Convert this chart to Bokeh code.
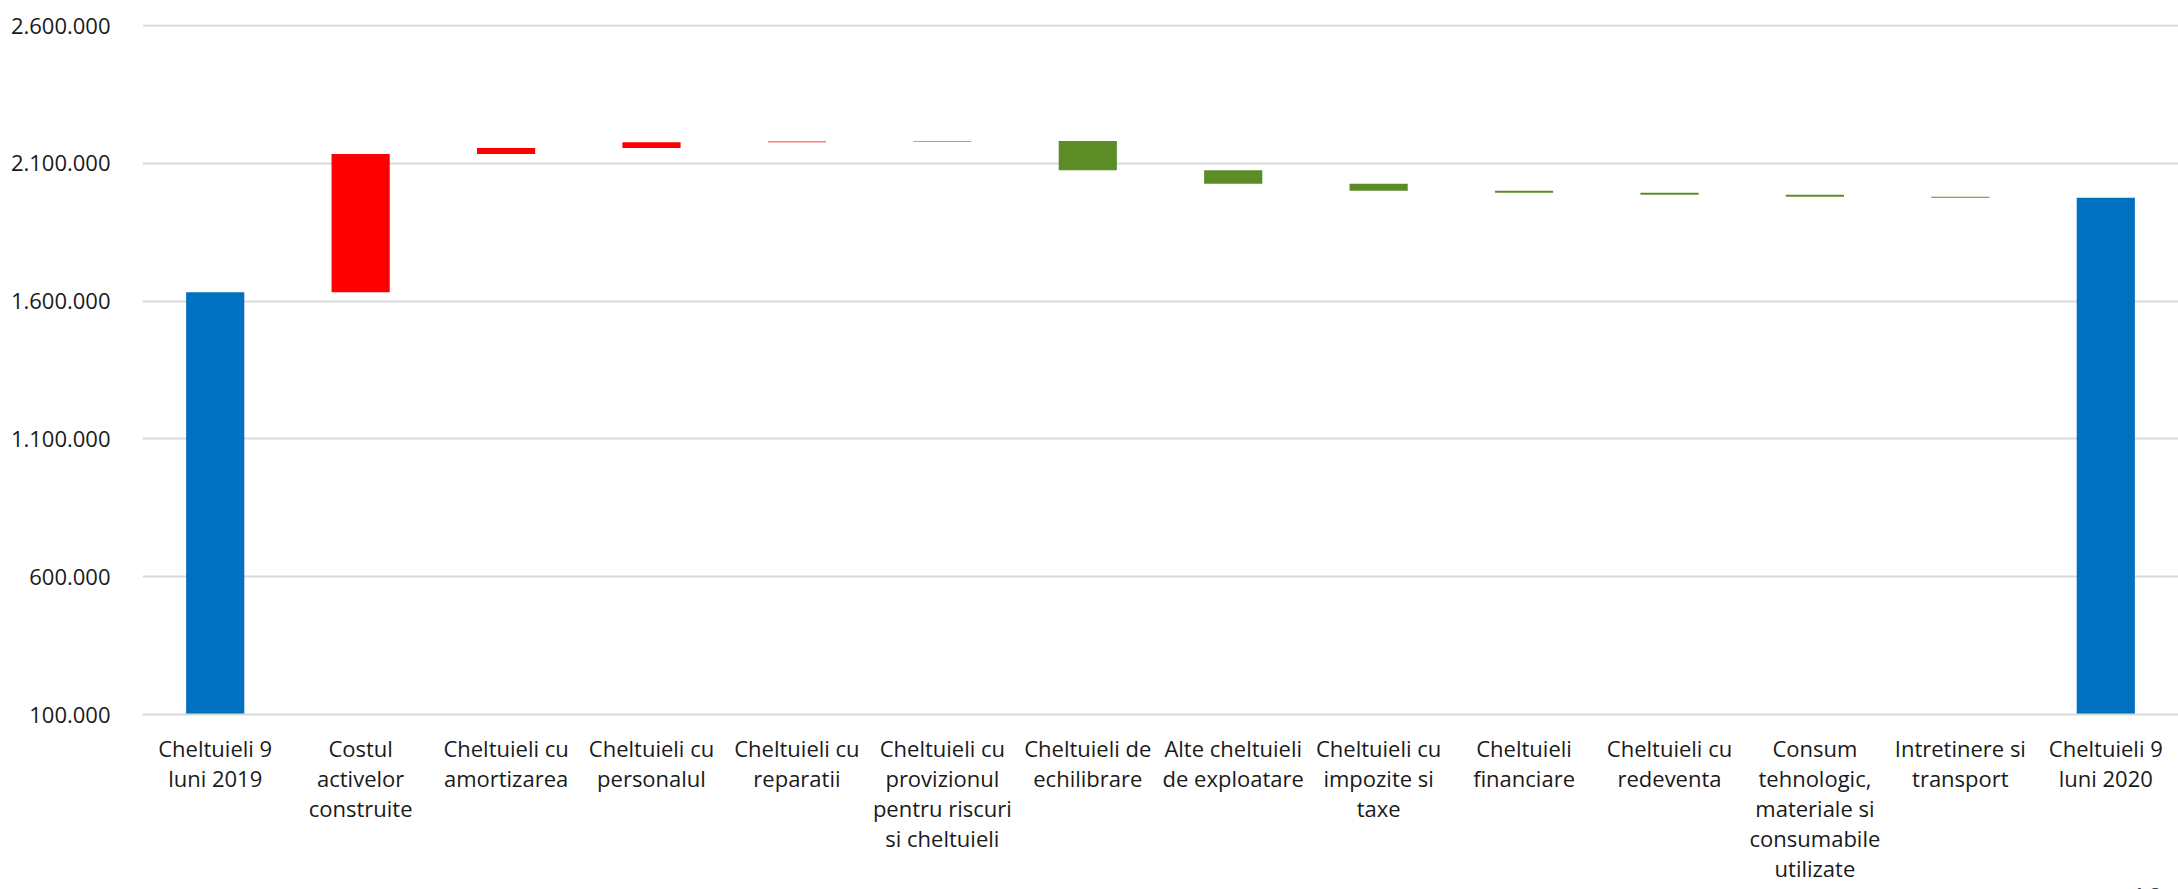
from bokeh.plotting import figure
from bokeh.models import ColumnDataSource, Range1d, FactorRange, CustomJSTickFormatter, FixedTicker, Title
from bokeh.embed import file_html
from bokeh.resources import INLINE

categories = [
    "Cheltuieli 9\nluni 2019",
    "Costul\nactivelor\nconstruite",
    "Cheltuieli cu\namortizarea",
    "Cheltuieli cu\npersonalul",
    "Cheltuieli cu\nreparatii",
    "Cheltuieli cu\nprovizionul\npentru riscuri\nsi cheltuieli",
    "Cheltuieli de\nechilibrare",
    "Alte cheltuieli\nde exploatare",
    "Cheltuieli cu\nimpozite si\ntaxe",
    "Cheltuieli\nfinanciare",
    "Cheltuieli cu\nredeventa",
    "Consum\ntehnologic,\nmateriale si\nconsumabile\nutilizate",
    "Intretinere si\ntransport",
    "Cheltuieli 9\nluni 2020",
]
start_value = 1632000
deltas = [502000, 22000, 21000, 2000, 2000, -106000, -49000, -25000, -8000, -7000, -7000, -4000]
end_value = 1975000
y_ticks = [100000, 600000, 1100000, 1600000, 2100000, 2600000]
page_number = "10"

BLUE = "#0070C0"
RED = "#FF0000"
GREEN = "#5B8C25"

bottoms, tops, colors = [0], [start_value], [BLUE]
level = start_value
for d in deltas:
    new = level + d
    bottoms.append(min(level, new))
    tops.append(max(level, new))
    colors.append(RED if d > 0 else GREEN)
    level = new
bottoms.append(0)
tops.append(end_value)
colors.append(BLUE)

source = ColumnDataSource(dict(cat=categories, bottom=bottoms, top=tops, color=colors))

p = figure(
    x_range=FactorRange(*categories),
    y_range=Range1d(100000, 2604000),
    width=2178, height=919,
    output_backend="svg", toolbar_location=None,
    min_border_left=142, min_border_right=0, min_border_top=24, min_border_bottom=205,
)
p.outline_line_color = None
p.background_fill_color = "white"
p.border_fill_color = "white"

p.vbar(x="cat", bottom="bottom", top="top", width=0.4, color="color", line_color=None, source=source)

p.yaxis.ticker = FixedTicker(ticks=y_ticks)
p.yaxis.formatter = CustomJSTickFormatter(
    code='return Math.round(tick).toString().replace(/\\B(?=(\\d{3})+(?!\\d))/g, ".");')
p.yaxis.axis_line_color = None
p.yaxis.major_tick_line_color = None
p.yaxis.minor_tick_line_color = None
p.yaxis.major_label_standoff = 26
p.yaxis.major_label_text_font = "Open Sans"
p.yaxis.major_label_text_font_size = "22px"
p.yaxis.major_label_text_color = "#1a1a1a"

p.xaxis.axis_line_color = "#d9d9d9"
p.xaxis.axis_line_width = 2
p.xaxis.major_tick_line_color = None
p.xaxis.minor_tick_line_color = None
p.xaxis.major_label_standoff = 12
p.xaxis.major_label_text_font = "Open Sans"
p.xaxis.major_label_text_font_size = "22px"
p.xaxis.major_label_text_line_height = 1.0
p.xaxis.major_label_text_color = "#1a1a1a"
p.xaxis.major_label_orientation = "horizontal"

p.xgrid.grid_line_color = None
p.ygrid.grid_line_color = "#d9d9d9"
p.ygrid.grid_line_width = 2

p.add_layout(Title(text=page_number, align="left", offset=1988, standoff=0,
                   text_font="Open Sans", text_font_size="29px", text_font_style="normal",
                   text_color="#404040"), "below")

open("out.html", "w").write(file_html(p, INLINE))
